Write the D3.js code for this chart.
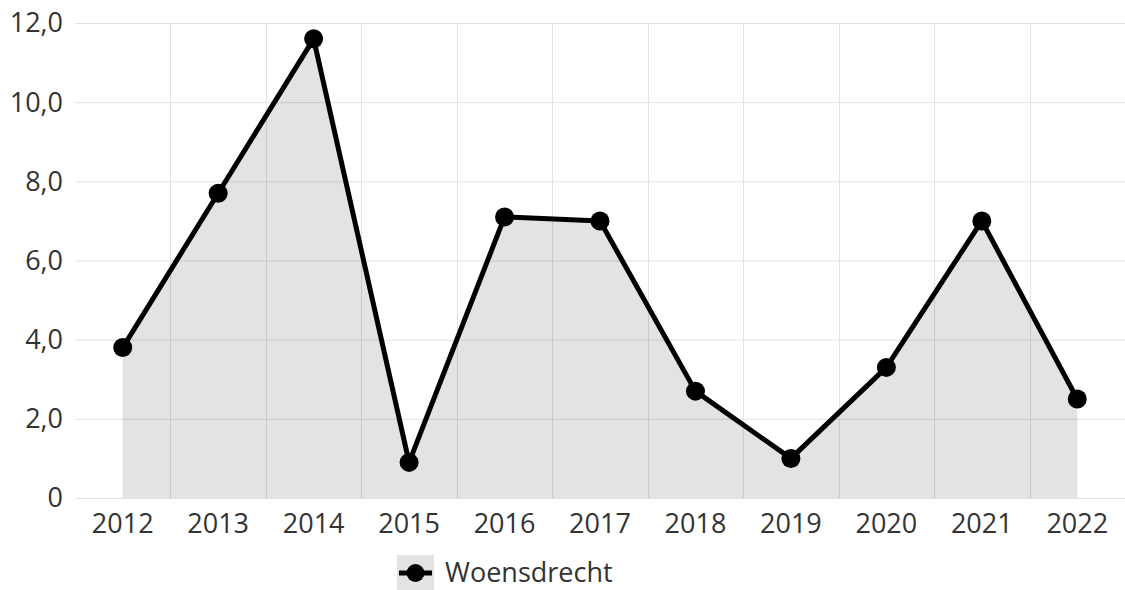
<!DOCTYPE html>
<html>
<head>
<meta charset="utf-8">
<script src="https://cdn.jsdelivr.net/npm/d3@7"></script>
<style>
  html, body { margin: 0; padding: 0; background: #fff; }
  svg text { font-family: 'Open Sans', sans-serif; fill: #333; }
</style>
</head>
<body>
<div id="chart"></div>
<script>
const years = ['2012', '2013', '2014', '2015', '2016', '2017', '2018', '2019', '2020', '2021', '2022'];
const woensdrecht = [3.8, 7.7, 11.6, 0.9, 7.1, 7.0, 2.7, 1.0, 3.3, 7.0, 2.5];
const yTicks = [0, 2, 4, 6, 8, 10, 12];
const seriesName = 'Woensdrecht';

const width = 1125;
const height = 590;
const margin = { top: 23, right: 0, bottom: 92, left: 75 };

const svg = d3.select('#chart').append('svg')
  .attr('width', width)
  .attr('height', height);

const x = d3.scaleBand()
  .domain(years)
  .range([margin.left, width - margin.right]);

const y = d3.scaleLinear()
  .domain([0, 12])
  .range([height - margin.bottom, margin.top]);

const fmt = d => d === 0 ? '0' : d.toFixed(1).replace('.', ',');

// horizontal grid
svg.append('g')
  .selectAll('line')
  .data(yTicks)
  .join('line')
  .attr('x1', margin.left)
  .attr('x2', width - margin.right)
  .attr('y1', d => y(d) + 0.5)
  .attr('y2', d => y(d) + 0.5)
  .style('stroke', '#e2e2e2')
  .style('stroke-width', 1);

// vertical grid at band edges
svg.append('g')
  .selectAll('line')
  .data(years.slice(1))
  .join('line')
  .attr('x1', d => Math.round(x(d)) + 0.5)
  .attr('x2', d => Math.round(x(d)) + 0.5)
  .attr('y1', margin.top)
  .attr('y2', height - margin.bottom)
  .style('stroke', '#e2e2e2')
  .style('stroke-width', 1);

// y labels
svg.append('g')
  .selectAll('text')
  .data(yTicks)
  .join('text')
  .attr('x', 63)
  .attr('y', d => y(d))
  .attr('dy', '0.35em')
  .style('text-anchor', 'end')
  .style('font-size', '27px')
  .text(fmt);

// x labels
svg.append('g')
  .selectAll('text')
  .data(years)
  .join('text')
  .attr('x', d => x(d) + x.bandwidth() / 2)
  .attr('y', 533)
  .style('text-anchor', 'middle')
  .style('font-size', '27px')
  .text(d => d);

const data = years.map((yr, i) => ({ year: yr, value: woensdrecht[i] }));
const cx = d => x(d.year) + x.bandwidth() / 2;

const area = d3.area()
  .x(cx)
  .y0(y(0))
  .y1(d => y(d.value));

svg.append('path')
  .datum(data)
  .attr('d', area)
  .style('fill', 'rgba(0,0,0,0.11)');

const line = d3.line()
  .x(cx)
  .y(d => y(d.value));

svg.append('path')
  .datum(data)
  .attr('d', line)
  .style('fill', 'none')
  .style('stroke', '#000')
  .style('stroke-width', 5)
  .style('stroke-linejoin', 'round');

svg.append('g')
  .selectAll('circle')
  .data(data)
  .join('circle')
  .attr('cx', cx)
  .attr('cy', d => y(d.value))
  .attr('r', 9.5)
  .style('fill', '#000');

// legend
const legend = svg.append('g').attr('transform', 'translate(397,573)');
legend.append('rect')
  .attr('x', 0)
  .attr('y', -18)
  .attr('width', 37)
  .attr('height', 36)
  .style('fill', 'rgba(0,0,0,0.11)');
legend.append('line')
  .attr('x1', 2)
  .attr('x2', 35)
  .attr('y1', 0)
  .attr('y2', 0)
  .style('stroke', '#000')
  .style('stroke-width', 5);
legend.append('circle')
  .attr('cx', 18.5)
  .attr('cy', 0)
  .attr('r', 9)
  .style('fill', '#000');
legend.append('text')
  .attr('x', 48)
  .attr('y', 0)
  .attr('dy', '0.35em')
  .style('font-size', '27px')
  .text(seriesName);
</script>
</body>
</html>
